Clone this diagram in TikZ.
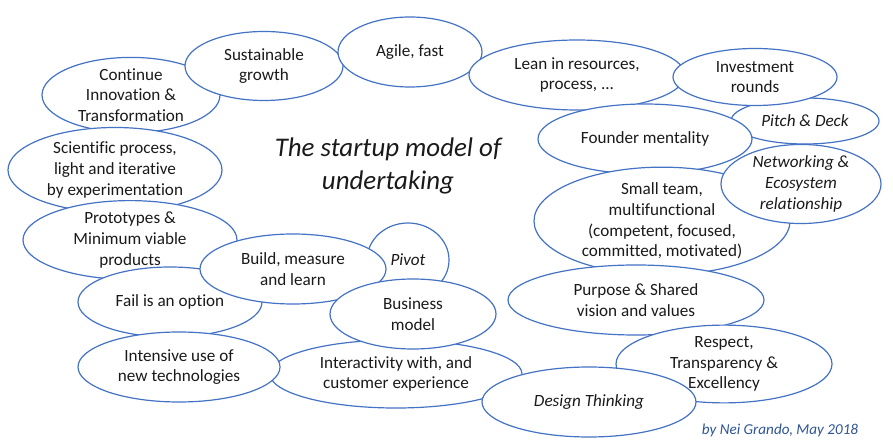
\documentclass[tikz,border=0pt]{standalone}
\usepackage{fontspec}
\setmainfont{Carlito}[Ligatures=NoCommon]
\usetikzlibrary{shapes.geometric}
\definecolor{eblue}{HTML}{4472C4}
\definecolor{sigblue}{HTML}{2F5597}
\definecolor{txt}{HTML}{1A1A1A}
\tikzset{
  ell/.style={ellipse, draw=eblue, line width=1.2bp, fill=white, inner sep=0pt,
    align=center, text=txt, font=\fontsize{17.2}{20.7}\selectfont},
}
\newcommand{\E}[6]{\node[ell, minimum width=#4bp, minimum height=#5bp] (#1) at (#2,#3) {#6};}
\begin{document}
\begin{tikzpicture}[x=1bp,y=-1bp]
\useasboundingbox (0,0) rectangle (893,447);
\fill[white] (0,0) rectangle (893,447);
% z-order bottom to top
\E{cont}{131}{95}{178}{67}{Continue\\Innovation \&\\Transformation}
\E{sust}{264}{66}{158}{69}{Sustainable\\growth}
\E{agile}{410}{52}{144}{70}{Agile, fast}
\E{lean}{577}{75}{216}{70}{Lean in resources,\\process, ...}
\E{pitch}{805}{121}{148}{46}{\itshape Pitch \& Deck}
\E{invest}{755}{77}{164}{57}{Investment\\rounds}
\E{founder}{645}{139}{214}{70}{Founder mentality}
\E{team}{662}{221}{256}{98}{Small team,\\multifunctional\\(competent, focused,\\committed, motivated)}
\E{net}{801}{184}{160}{70}{\itshape Networking \&\\\itshape Ecosystem\\\itshape relationship}
\E{purpose}{636}{300}{256}{70}{Purpose \& Shared\\vision and values}
\E{respect}{724}{364}{216}{70}{Respect,\\Transparency \&\\Excellency}
\E{sci}{115}{170}{214}{85}{Scientific process,\\light and iterative\\by experimentation}
\E{proto}{130}{240}{214}{70}{Prototypes \&\\Minimum viable\\products}
\E{fail}{170}{302}{184}{70}{Fail is an option}
\E{pivot}{408}{260}{82}{74}{\itshape Pivot}
\E{build}{293}{269}{186}{70}{Build, measure\\and learn}
\E{inter}{396}{374}{252}{68}{Interactivity with, and\\customer experience}
\E{biz}{413}{314}{166}{70}{Business\\model}
\E{intens}{179}{367}{202}{70}{Intensive use of\\new technologies}
\E{design}{589}{402}{214}{70}{\itshape Design Thinking}
\node[align=center, text=txt, font=\fontsize{27}{34}\selectfont\itshape] (title) at (388,166) {The startup model of\\undertaking};
\node[text=sigblue, font=\fontsize{15.2}{18}\selectfont\itshape] (sig) at (780,430) {by Nei Grando, May 2018};
\end{tikzpicture}
\end{document}
